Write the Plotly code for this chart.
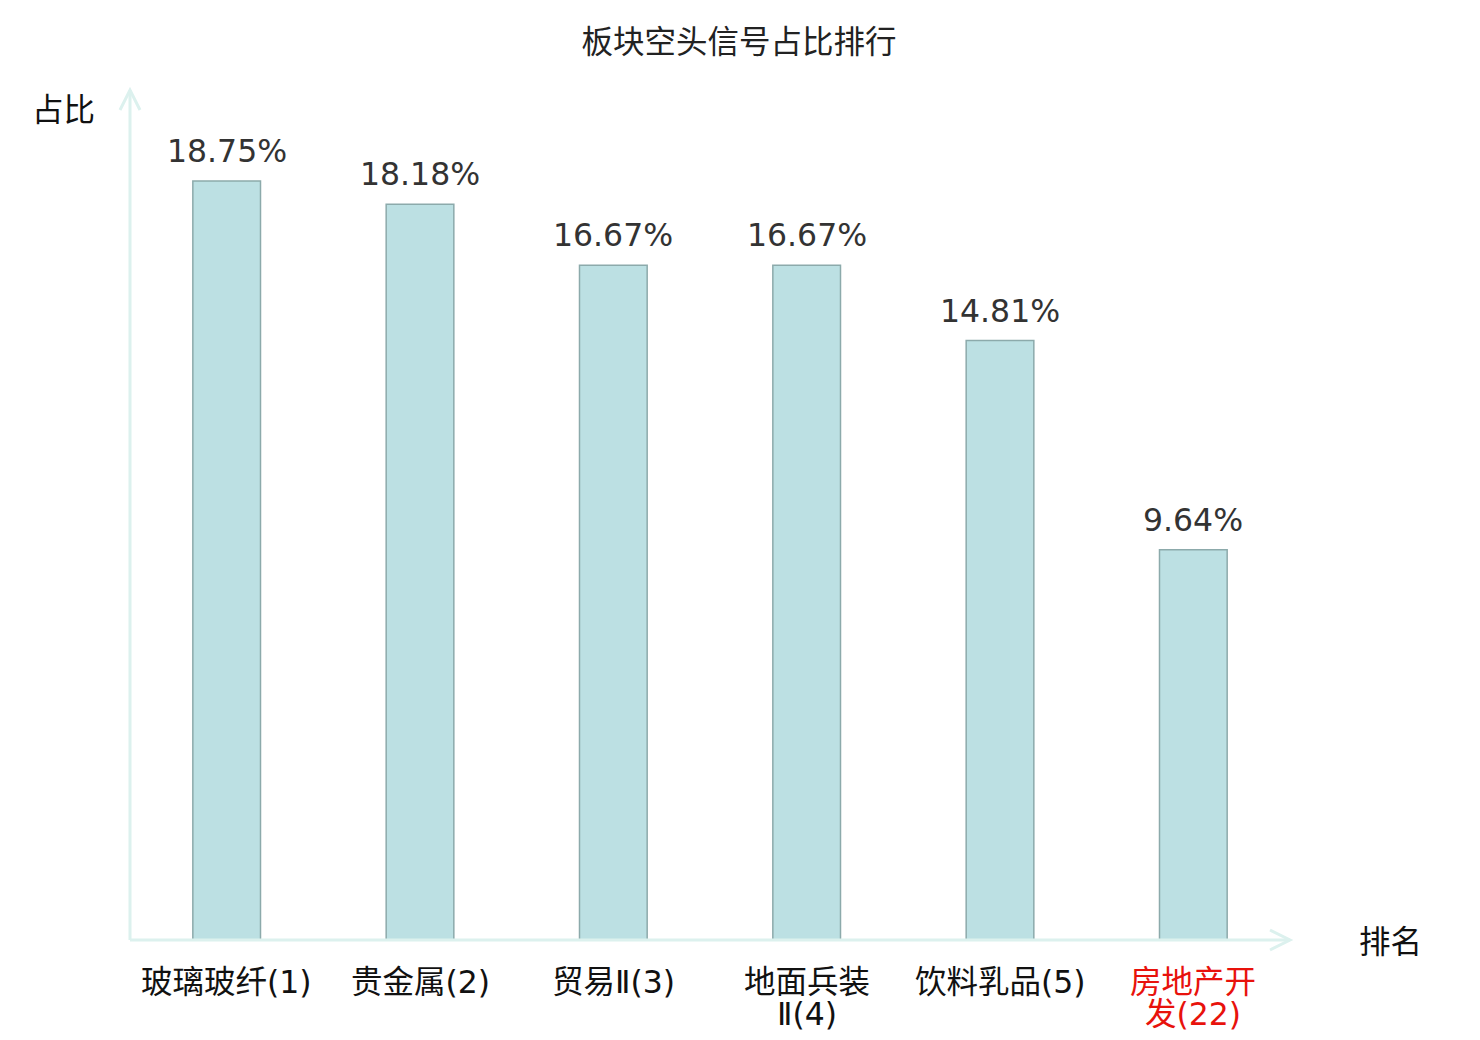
import plotly.graph_objects as go

# data
categories = ["玻璃玻纤(1)", "贵金属(2)", "贸易Ⅱ(3)", "地面兵装Ⅱ(4)", "饮料乳品(5)", "房地产开发(22)"]
tick_lines = [["玻璃玻纤(1)"], ["贵金属(2)"], ["贸易Ⅱ(3)"], ["地面兵装", "Ⅱ(4)"],
              ["饮料乳品(5)"], ["房地产开", "发(22)"]]
tick_colors = ["#111111", "#111111", "#111111", "#111111", "#111111", "#e8120c"]
values = [18.75, 18.18, 16.67, 16.67, 14.81, 9.64]
value_labels = ["18.75%", "18.18%", "16.67%", "16.67%", "14.81%", "9.64%"]

FONT = "DejaVu Sans, Noto Sans CJK SC, sans-serif"
AXIS_COLOR = "#dcf1ee"
FS = 31.5

fig = go.Figure()
fig.add_trace(go.Bar(
    x=categories, y=values, width=0.35,
    marker=dict(color="#bce0e3", line=dict(color="#8caaab", width=1.5)),
    hoverinfo="skip",
))

# value labels above the bars
for c, v, t in zip(categories, values, value_labels):
    fig.add_annotation(x=c, y=v, text=t, showarrow=False, yanchor="bottom", yshift=10,
                       font=dict(size=FS, color="#333333", family=FONT))

# category labels under the axis (tight line spacing)
for c, lines, col in zip(categories, tick_lines, tick_colors):
    for i, line in enumerate(lines):
        fig.add_annotation(x=c, y=0, text=line, showarrow=False, yanchor="middle",
                           yshift=-42 - 32 * i,
                           font=dict(size=FS, color=col, family=FONT))

fig.update_layout(
    width=1480, height=1040,
    margin=dict(l=122, r=198, t=82, b=108),
    plot_bgcolor="white", paper_bgcolor="white",
    showlegend=False,
    font=dict(family=FONT, size=FS, color="#111111"),
    title=dict(text="板块空头信号占比排行", x=(739 - 8) / 1480, xanchor="center",
               y=1 - 34 / 1040, yanchor="middle", font=dict(size=FS, color="#222222")),
    xaxis=dict(range=[-0.5, 5.5], showticklabels=False,
               showline=False, showgrid=False, zeroline=False, ticks=""),
    yaxis=dict(range=[0, 21.0], showticklabels=False, showgrid=False, zeroline=False,
               showline=False, ticks=""),
)

# axis lines with open arrowheads
fig.add_shape(type="line", xref="paper", yref="paper", x0=0, x1=1, y0=0, y1=0,
              line=dict(color=AXIS_COLOR, width=3))
fig.add_shape(type="line", xref="paper", yref="paper", x0=0, x1=0, y0=0, y1=1,
              line=dict(color=AXIS_COLOR, width=3))
fig.add_shape(type="path", xref="paper", yref="paper", xsizemode="pixel", ysizemode="pixel",
              xanchor=1, yanchor=0, path="M-20,10 L0,0 L-20,-10",
              line=dict(color=AXIS_COLOR, width=3))
fig.add_shape(type="path", xref="paper", yref="paper", xsizemode="pixel", ysizemode="pixel",
              xanchor=0, yanchor=1, path="M-10,-20 L0,0 L10,-20",
              line=dict(color=AXIS_COLOR, width=3))

# axis titles
fig.add_annotation(text="排名", xref="paper", yref="paper", x=1, y=0, xshift=100, yshift=-2,
                   showarrow=False, xanchor="center", yanchor="middle",
                   font=dict(size=FS, color="#111111"))
fig.add_annotation(text="占比", xref="paper", yref="paper", x=0, y=1, xshift=-67, yshift=-20,
                   showarrow=False, xanchor="center", yanchor="middle",
                   font=dict(size=FS, color="#111111"))

fig.write_html("out.html")
